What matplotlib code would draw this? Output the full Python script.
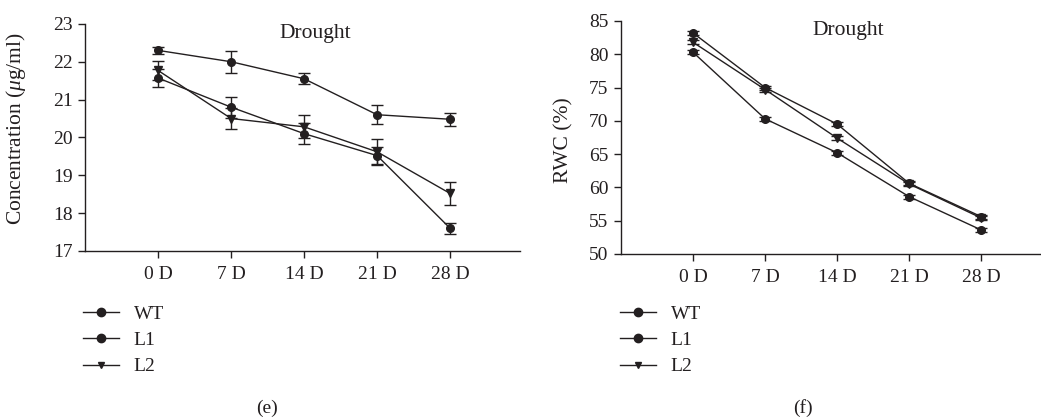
import matplotlib.pyplot as plt
from matplotlib.lines import Line2D
import numpy as np

plt.rcParams['font.family'] = ['Liberation Serif', 'DejaVu Serif']
plt.rcParams['mathtext.fontset'] = 'custom'
plt.rcParams['mathtext.it'] = 'Liberation Serif:italic'
plt.rcParams['mathtext.rm'] = 'Liberation Serif'

days = ['0 D', '7 D', '14 D', '21 D', '28 D']
series = ['WT', 'L1', 'L2']

# (e) concentration
conc_wt = [22.30, 22.00, 21.55, 20.60, 20.48]
conc_wt_err = [0.10, 0.29, 0.15, 0.25, 0.17]
conc_l1 = [21.57, 20.80, 20.10, 19.52, 17.60]
conc_l1_err = [0.23, 0.28, 0.27, 0.24, 0.15]
conc_l2 = [21.77, 20.50, 20.28, 19.62, 18.52]
conc_l2_err = [0.24, 0.29, 0.30, 0.33, 0.30]

# (f) RWC
rwc_wt = [83.2, 75.0, 69.5, 60.6, 55.6]
rwc_wt_err = [0.3, 0.3, 0.3, 0.3, 0.3]
rwc_l1 = [80.3, 70.3, 65.2, 58.6, 53.6]
rwc_l1_err = [0.3, 0.3, 0.3, 0.3, 0.3]
rwc_l2 = [81.8, 74.7, 67.4, 60.5, 55.4]
rwc_l2_err = [0.3, 0.3, 0.3, 0.3, 0.3]

col = '#231f20'
fs_tick = 14
fs_lab = 15.5
fs_leg = 14

fig = plt.figure(figsize=(10.41, 4.19), dpi=100)
ax1 = fig.add_axes([0.0817, 0.401, 0.418, 0.542])
ax2 = fig.add_axes([0.5965, 0.394, 0.4035, 0.556])

x = np.arange(len(days))


def draw(ax, data, ylim, yticks, ylabel, xmax, title_pos):
    for (vals, errs, mk) in data:
        ax.errorbar(x, vals, yerr=errs, color=col, marker=mk, markersize=5.5,
                    lw=1, elinewidth=1, capsize=4.5, capthick=1)
    ax.set_xlim(-1, xmax)
    ax.set_ylim(*ylim)
    ax.set_yticks(yticks)
    ax.set_xticks(x)
    ax.set_xticklabels(days, fontsize=fs_tick)
    ax.tick_params(axis='y', labelsize=fs_tick, direction='out', length=5, width=1, color=col, labelcolor=col, pad=4)
    ax.tick_params(axis='x', direction='out', length=5, width=1, color=col, labelcolor=col, pad=6)
    for s in ['top', 'right']:
        ax.spines[s].set_visible(False)
    for s in ['left', 'bottom']:
        ax.spines[s].set_color(col)
        ax.spines[s].set_linewidth(1)
    ax.set_ylabel(ylabel, fontsize=fs_lab, color=col)
    ax.text(title_pos[0], title_pos[1], 'Drought', transform=ax.transAxes, ha='center', va='center',
            fontsize=fs_lab, color=col)


draw(ax1, [(conc_wt, conc_wt_err, 'o'), (conc_l1, conc_l1_err, 'o'), (conc_l2, conc_l2_err, 'v')],
     (17, 23), range(17, 24), r'Concentration ($\mu$g/ml)', 4.96, (0.529, 0.956))
draw(ax2, [(rwc_wt, rwc_wt_err, 'o'), (rwc_l1, rwc_l1_err, 'o'), (rwc_l2, rwc_l2_err, 'v')],
     (50, 85), range(50, 90, 5), 'RWC (%)', 4.83, (0.54, 0.961))
ax1.yaxis.set_label_coords(-0.131, 0.54)
ax2.yaxis.set_label_coords(-0.114, 0.49)

handles = [Line2D([0], [0], color=col, lw=1, marker=m, markersize=ms)
           for m, ms in [('o', 6), ('o', 6), ('v', 5)]]
for lx, cap, cx in [(83, '(e)', 267), (620, '(f)', 803)]:
    fig.legend(handles, series, loc='upper left', bbox_to_anchor=(lx / 1041, 1 - 305 / 419),
               frameon=False, fontsize=fs_leg, borderpad=0, borderaxespad=0,
               handlelength=1.85, handletextpad=0.75, labelspacing=0.45, labelcolor=col)
    fig.text(cx / 1041, 1 - 408 / 419, cap, ha='center', va='center', fontsize=fs_leg, color=col)

fig.savefig('out.png', dpi=100, facecolor='w')
